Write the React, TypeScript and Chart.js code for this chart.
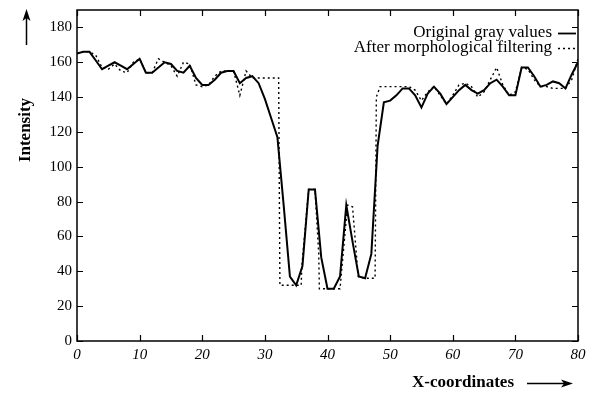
import React, { useEffect, useRef } from "react";
import { Chart, registerables } from "chart.js";

Chart.register(...registerables);

// Original gray values, sampled at x = 0..80
const originalValues = [
  165, 166, 166, 161, 156, 158, 160, 158, 156, 159,
  162, 154, 154, 157, 160, 159, 155, 154, 158, 151,
  147, 147, 150, 154, 155, 155, 148, 151, 152, 148,
  139, 128, 117, 78, 37, 32, 43, 87, 87, 48,
  30, 30, 37, 78, 57, 37, 36, 50, 112, 137,
  138, 141, 145, 145, 141, 134, 142, 146, 142, 136,
  140, 144, 147, 144, 142, 144, 148, 150, 146, 141,
  141, 157, 157, 152, 146, 147, 149, 148, 145, 153,
  160,
];

// After morphological filtering
const filteredX = [
  0, 1, 2, 3, 4, 5, 6, 7, 8, 9,
  10, 11, 12, 13, 14, 15, 16, 17, 18, 19,
  20, 21, 22, 23, 24, 25, 26, 27, 28, 29,
  30, 31, 32.2, 32.4, 33, 34, 35, 35.8, 35.9, 37,
  38, 38.6, 38.7, 40, 41, 42, 43.2, 44, 44.9, 46,
  47.6, 47.8, 48.4, 49, 50, 51, 52, 53, 54, 55,
  56, 57, 58, 59, 60, 61, 62, 63, 64, 65,
  66, 67, 68, 69, 70, 71, 72, 73, 74, 75,
  76, 77, 78, 79, 80,
];
const filteredY = [
  165, 166, 166, 164, 157, 156, 159, 155, 154, 160,
  162, 154, 154, 162, 160, 158, 152, 160, 159, 147,
  146, 147, 152, 155, 155, 155, 141, 155, 151, 151,
  151, 151, 151, 32, 32, 32, 32, 32, 43, 87,
  87, 50, 30, 30, 30, 30, 78, 77, 37, 36,
  36, 140, 146, 146, 146, 146, 146, 146, 144, 138,
  143, 146, 141, 136, 141, 147, 148, 146, 140, 143,
  150, 157, 147, 141, 143, 157, 156, 150, 146, 146,
  145, 145, 145, 150, 162,
];

const xTicks = [0, 10, 20, 30, 40, 50, 60, 70, 80];
const yTicks = [0, 20, 40, 60, 80, 100, 120, 140, 160, 180];

const legendLabels = ["Original gray values", "After morphological filtering"];
const yTitle = "Intensity";
const xTitle = "X-coordinates";

const SERIF = "'Liberation Serif', 'Times New Roman', serif";

const decorPlugin = {
  id: "decor",
  afterDraw(chart: any) {
    const { ctx, chartArea } = chart;
    const { left, right, top, bottom } = chartArea;
    const xs = chart.scales.x;
    const ys = chart.scales.y;
    ctx.save();
    ctx.strokeStyle = "#000";
    ctx.fillStyle = "#000";
    // frame
    ctx.lineWidth = 1.5;
    ctx.strokeRect(left, top, right - left, bottom - top);
    // inward ticks
    ctx.lineWidth = 1.2;
    const tl = 6;
    ctx.beginPath();
    xTicks.forEach((v) => {
      const px = Math.round(xs.getPixelForValue(v)) + 0.5;
      ctx.moveTo(px, bottom);
      ctx.lineTo(px, bottom - tl);
      ctx.moveTo(px, top);
      ctx.lineTo(px, top + tl);
    });
    yTicks.forEach((v) => {
      const py = Math.round(ys.getPixelForValue(v)) + 0.5;
      ctx.moveTo(left, py);
      ctx.lineTo(left + tl, py);
      ctx.moveTo(right, py);
      ctx.lineTo(right - tl, py);
    });
    ctx.stroke();

    // legend
    ctx.font = `17px ${SERIF}`;
    ctx.textAlign = "right";
    ctx.textBaseline = "middle";
    const lx = 544;
    const rows = [25, 40];
    ctx.fillText(legendLabels[0], lx, rows[0]);
    ctx.fillText(legendLabels[1], lx, rows[1]);
    ctx.lineWidth = 1.8;
    ctx.setLineDash([]);
    ctx.beginPath();
    ctx.moveTo(550, rows[0] + 0.5);
    ctx.lineTo(568, rows[0] + 0.5);
    ctx.stroke();
    ctx.lineWidth = 1.3;
    ctx.setLineDash([2, 3]);
    ctx.beginPath();
    ctx.moveTo(550, rows[1] + 0.5);
    ctx.lineTo(568, rows[1] + 0.5);
    ctx.stroke();
    ctx.setLineDash([]);

    // y title
    ctx.save();
    ctx.translate(18, 122);
    ctx.rotate(-Math.PI / 2);
    ctx.font = `bold 17px ${SERIF}`;
    ctx.textAlign = "center";
    ctx.textBaseline = "middle";
    ctx.fillText(yTitle, 0, 0);
    ctx.restore();
    // y arrow
    ctx.lineWidth = 1.5;
    ctx.beginPath();
    ctx.moveTo(18.5, 37);
    ctx.lineTo(18.5, 6);
    ctx.stroke();
    ctx.beginPath();
    ctx.moveTo(18.5, 1);
    ctx.lineTo(14.5, 13);
    ctx.lineTo(18.5, 10);
    ctx.lineTo(22.5, 13);
    ctx.closePath();
    ctx.fill();

    // x title
    ctx.font = `bold 17px ${SERIF}`;
    ctx.textAlign = "right";
    ctx.textBaseline = "middle";
    ctx.fillText(xTitle, 506, 375);
    // x arrow
    ctx.beginPath();
    ctx.moveTo(519, 375.5);
    ctx.lineTo(558, 375.5);
    ctx.stroke();
    ctx.beginPath();
    ctx.moveTo(565, 375.5);
    ctx.lineTo(553, 371.5);
    ctx.lineTo(556, 375.5);
    ctx.lineTo(553, 379.5);
    ctx.closePath();
    ctx.fill();
    ctx.restore();
  },
};

export default function App() {
  const ref = useRef<HTMLCanvasElement | null>(null);
  useEffect(() => {
    if (!ref.current) return;
    const chart = new Chart(ref.current, {
      type: "line",
      data: {
        datasets: [
          {
            label: legendLabels[0],
            data: originalValues.map((v, i) => ({ x: i, y: v })),
            borderColor: "#000",
            borderWidth: 2,
            pointRadius: 0,
            tension: 0,
            fill: false,
          },
          {
            label: legendLabels[1],
            data: filteredX.map((x, i) => ({ x, y: filteredY[i] })),
            borderColor: "#000",
            borderWidth: 1.4,
            borderDash: [2, 3],
            pointRadius: 0,
            tension: 0,
            fill: false,
          },
        ],
      },
      options: {
        animation: false,
        responsive: false,
        layout: { padding: { top: 2, right: 20, left: 0, bottom: 0 } },
        plugins: { legend: { display: false }, tooltip: { enabled: false } },
        scales: {
          x: {
            type: "linear",
            min: 0,
            max: 80,
            afterBuildTicks: (s: any) => {
              s.ticks = xTicks.map((v) => ({ value: v }));
            },
            afterFit: (s: any) => {
              s.height = 47;
              s.paddingLeft = 0;
              s.paddingRight = 0;
            },
            ticks: {
              color: "#000",
              padding: 5,
              font: { family: SERIF, size: 15, style: "italic" },
            },
            grid: { display: false, drawTicks: false },
            border: { display: false },
          },
          y: {
            min: 0,
            max: 190,
            afterBuildTicks: (s: any) => {
              s.ticks = yTicks.map((v) => ({ value: v }));
            },
            afterFit: (s: any) => {
              s.width = 69;
              s.paddingTop = 0;
              s.paddingBottom = 0;
            },
            ticks: {
              color: "#000",
              padding: 5,
              font: { family: SERIF, size: 15 },
            },
            grid: { display: false, drawTicks: false },
            border: { display: false },
          },
        },
      },
      plugins: [decorPlugin],
    });
    return () => chart.destroy();
  }, []);
  return (
    <div style={{ width: 590, height: 380 }}>
      <canvas ref={ref} width={590} height={380} style={{ display: "block" }} />
    </div>
  );
}
